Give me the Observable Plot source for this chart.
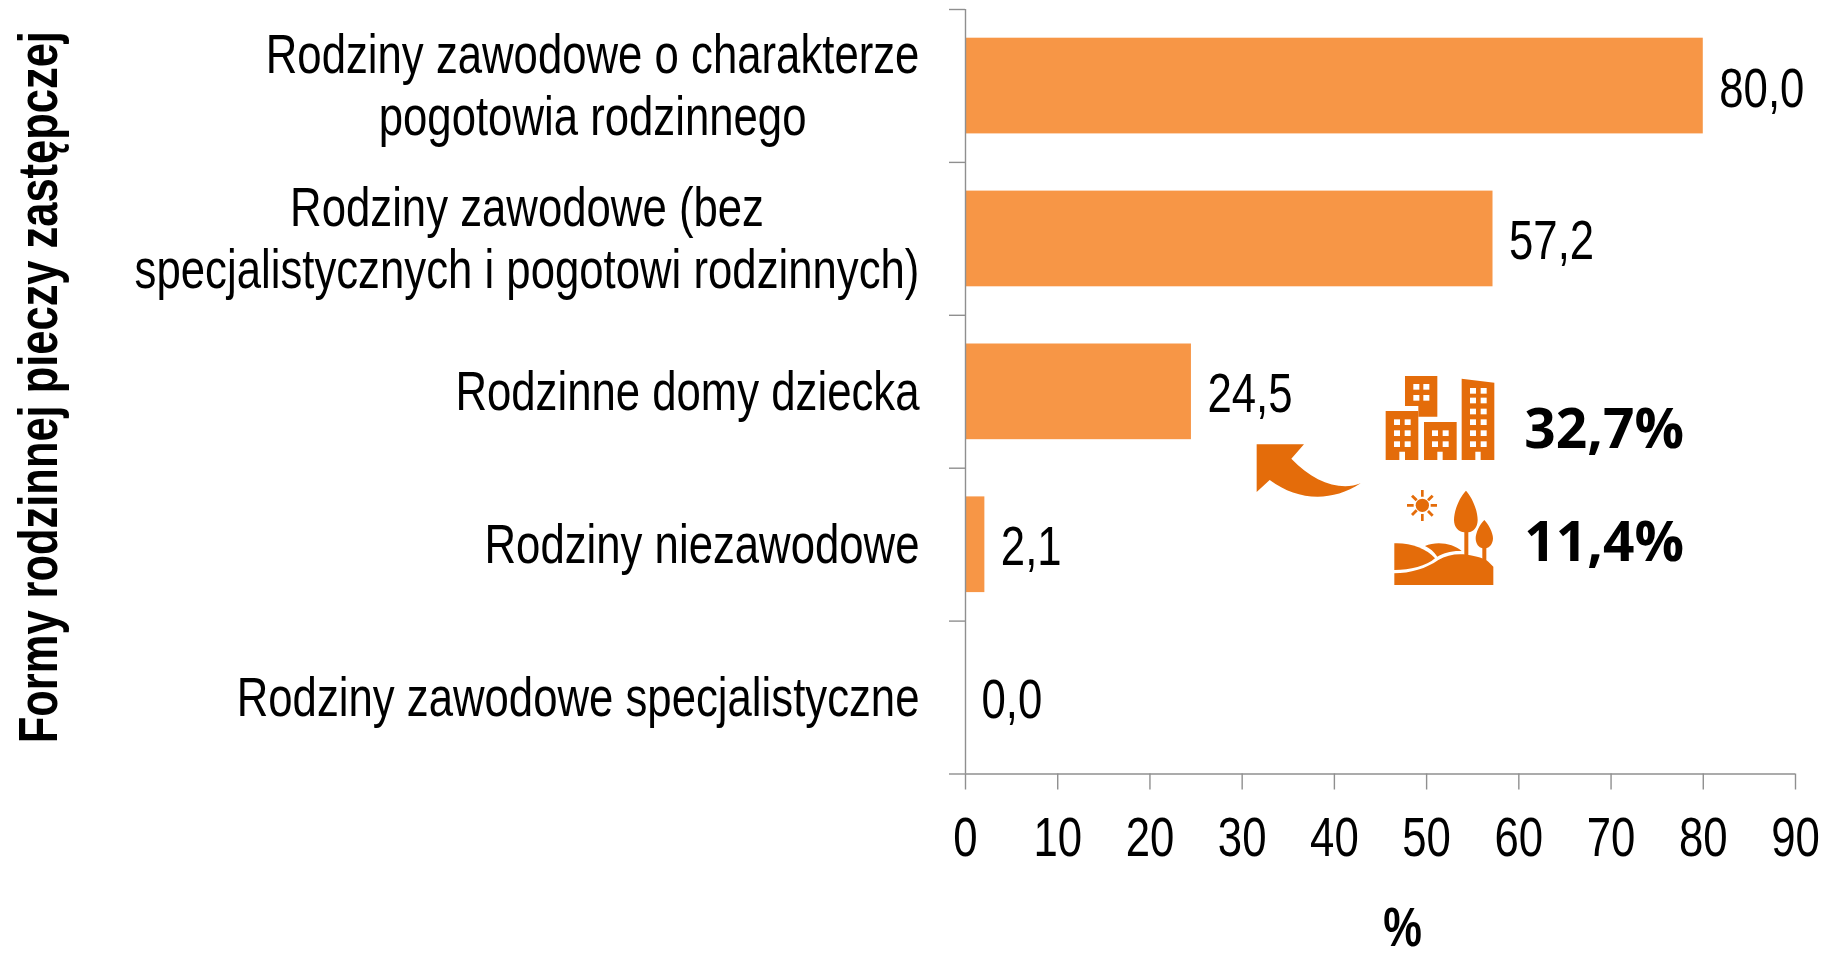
<!DOCTYPE html>
<html><head><meta charset="utf-8">
<script src="https://cdn.jsdelivr.net/npm/d3@7"></script>
<script src="https://cdn.jsdelivr.net/npm/@observablehq/plot@0.6"></script>
<style>html,body{margin:0;padding:0;background:#fff}svg{display:block}</style>
</head><body><div id="chart"></div>
<script>
const categories = [
  "Rodziny zawodowe o charakterze\npogotowia rodzinnego",
  "Rodziny zawodowe (bez\nspecjalistycznych i pogotowi rodzinnych)",
  "Rodzinne domy dziecka",
  "Rodziny niezawodowe",
  "Rodziny zawodowe specjalistyczne"
];
const values = [80.0, 57.2, 24.5, 2.1, 0.0];
const xTicks = [0,10,20,30,40,50,60,70,80,90];
const yAxisTitle = "Formy rodzinnej pieczy zastępczej";
const xAxisTitle = "%";
const callouts = ["32,7%", "11,4%"];

const table = categories.map((c,i)=>({c, v:values[i], i}));
const fmt = d3.format(".1f");
const pl = v => fmt(v).replace(".", ",");
const ORANGE="#F79646", DARK="#E46C0A", GREY="#8f8f8f";
const FONT="'Liberation Sans',sans-serif";
const SIZE=55;

function icons(){
  const g = d3.create("svg:g").attr("transform","translate(1230,360) scale(0.33333)");
  const o = g.append("g").attr("fill",DARK);
  o.append("path").attr("d","M80,253L222,253L184,296C250,365 330,395 392,370C300,430 200,420 119,360L80,396Z");
  o.append("path").attr("d","M525,48H622V170H565V138H525Z");
  o.append("path").attr("d","M467,153H565V300H525V275H508V300H467Z");
  o.append("path").attr("d","M582,186H680V300H638V275H622V300H582Z");
  o.append("path").attr("d","M695,56L793,68V300H752V275H736V300H695Z");
  const win=(xs,ys)=>xs.forEach(x=>ys.forEach(y=>g.append("rect").attr("x",x).attr("y",y).attr("width",18).attr("height",17).attr("fill","#fff")));
  win([550,580],[72,105]);
  win([492,524],[178,211,244]);
  win([606,638],[211,244]);
  win([720,752],[84,113,146,178,211,244]);
  o.append("circle").attr("cx",577).attr("cy",436).attr("r",20);
  o.append("path").attr("d","M573,390h8v20h-8ZM573,462h8v21h-8ZM531,432h20v8h-20ZM602,432h19v8h-19Z");
  o.append("path").attr("d","M543,410l6,-6l14,14l-6,6ZM591,456l6,-6l14,14l-6,6ZM543,462l14,-14l6,6l-14,14ZM591,418l14,-14l6,6l-14,14Z");
  o.append("path").attr("d","M708,392C725,410 743,450 743,480C743,502 730,516 715,517V585H703V517C686,516 672,502 672,480C672,450 690,410 708,392Z");
  o.append("path").attr("d","M763,480C775,492 789,518 789,535C789,552 778,563 769,565V605H757V565C747,563 737,552 737,535C737,518 750,492 763,480Z");
  o.append("path").attr("d","M493,640C540,640 590,625 625,600C650,585 680,580 710,584C740,588 765,595 775,605L790,620V675H493Z");
  o.append("path").attr("d","M493,550C540,548 590,565 615,595C590,618 540,630 493,630Z");
  o.append("path").attr("d","M585,558C620,542 670,550 695,573C660,572 640,580 622,590C612,575 600,565 585,558Z");
  return g.node();
}

const chart = Plot.plot({
  width:1826, height:953,
  marginLeft:965, marginRight:31, marginTop:9, marginBottom:179.5,
  style:{fontFamily:FONT, background:"#fff", color:"#000", overflow:"visible"},
  x:{domain:[0,90]},
  y:{domain:[0,5], range:[9,773.5]},
  marks:[
    Plot.rectX(table,{x1:0,x2:"v",y1:"i",y2:d=>d.i+1,insetTop:28.7,insetBottom:28.5,fill:ORANGE}),
    Plot.ruleX([0],{y1:0,y2:5,stroke:GREY,strokeWidth:1.4}),
    Plot.ruleY([5],{x1:0,x2:90,stroke:GREY,strokeWidth:1.4}),
    Plot.axisY({ticks:[0,1,2,3,4,5],tickSize:16,tickFormat:()=>"",stroke:GREY,strokeWidth:1.4,label:null}),
    Plot.axisX({ticks:xTicks,tickSize:16,tickPadding:27,fontSize:SIZE,stroke:GREY,strokeWidth:1.4,label:null,color:"#000",textStroke:"none",tickFormat:d=>String(d)}),
    Plot.text(table,{x:0,y:d=>d.i+0.5,text:"c",textAnchor:"end",dx:-46,dy:-1.5,fontSize:SIZE,lineHeight:1.12,fill:"#000"}),
    Plot.text(table,{x:"v",y:d=>d.i+0.5,text:d=>pl(d.v),textAnchor:"start",dx:16,dy:3,fontSize:SIZE,fill:"#000"}),
    Plot.text([yAxisTitle],{frameAnchor:"left",y:2.47,dx:-926,rotate:-90,textAnchor:"middle",fontSize:SIZE,fontWeight:"bold",fill:"#000"}),
    Plot.text([xAxisTitle],{x:47.4,frameAnchor:"bottom",dy:172,fontSize:SIZE,fontWeight:"bold",fill:"#000"}),
    Plot.text(callouts,{x:()=>60.6,y:(d,i)=>[2.75,3.49][i],text:d=>d,textAnchor:"start",fontFamily:"'Open Sans',sans-serif",fontWeight:"bold",fontSize:55,fill:"#000"}),
    icons
  ]
});
document.getElementById("chart").appendChild(chart);
// The reference uses a condensed face: narrow the text marks horizontally,
// and centre the lines of a two-line label on each other inside its right-aligned block.
chart.querySelectorAll("text").forEach(t=>{
  const cs=getComputedStyle(t);
  if(cs.fontFamily.includes("Open Sans")) return;
  const spans=[...t.querySelectorAll("tspan")];
  if(spans.length>1){
    const w=Math.max(...spans.map(s=>s.getComputedTextLength()));
    t.setAttribute("text-anchor","middle");
    spans.forEach(s=>s.setAttribute("x",-w/2));
  }
  const k = +cs.fontWeight>=600 ? 0.79 : 0.795;
  const tr=t.getAttribute("transform")||"";
  t.setAttribute("transform",tr+` scale(${k},1)`);
});
</script></body></html>
